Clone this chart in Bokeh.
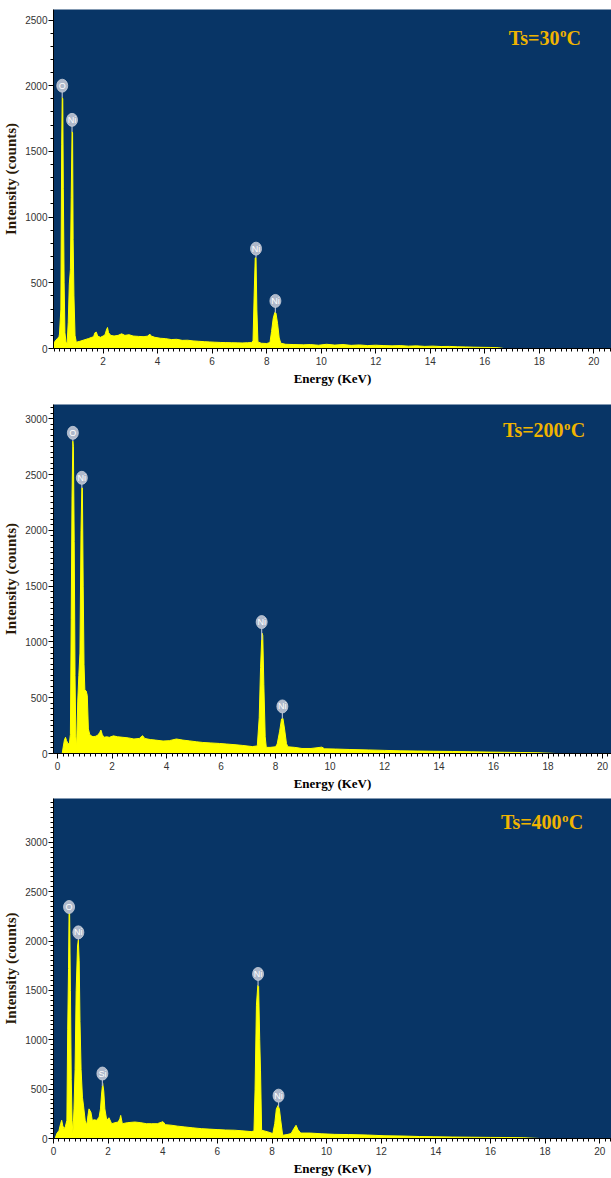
import numpy as np
from bokeh.plotting import figure
from bokeh.layouts import column
from bokeh.models import Range1d, Label, SingleIntervalTicker, ColumnDataSource
from bokeh.core.properties import value
from bokeh.embed import file_html
from bokeh.resources import INLINE

# ---------------- data ----------------
# Ts = 30 C
energy_30 = [0.19, 0.26, 0.32, 0.38, 0.40, 0.45, 0.48, 0.50, 0.52, 0.54, 0.57, 0.60, 0.64, 0.68,
             0.72, 0.76, 0.80, 0.83, 0.86, 0.88, 0.90, 0.93, 0.97, 1.02,
             1.05, 1.15, 1.30, 1.47, 1.58, 1.65, 1.70, 1.75, 1.80, 1.90, 2.00, 2.07, 2.12, 2.16,
             2.20, 2.28, 2.40, 2.55, 2.68, 2.80, 2.95, 3.10, 3.30, 3.50, 3.65, 3.71, 3.76, 3.90,
             4.10, 4.30, 4.50, 4.70, 4.90, 5.10, 5.30, 5.50, 5.71, 5.90, 6.10, 6.32, 6.50, 6.70,
             6.92, 7.10, 7.30, 7.45, 7.50, 7.54, 7.58, 7.61, 7.64, 7.68, 7.80, 8.00, 8.12, 8.18,
             8.24, 8.30, 8.34, 8.40, 8.46, 8.52, 8.70, 9.00, 9.35, 9.60, 9.90, 10.2, 10.5, 10.8,
             11.1, 11.4, 11.7, 12.0, 12.3, 12.6, 12.9, 13.2, 13.5, 13.8, 14.1, 14.4, 14.7, 15.0,
             15.3, 15.6, 15.9, 16.2, 16.5, 16.7]
counts_30 = [38, 63, 75, 89, 110, 300, 1550, 1910, 1900, 1220, 500, 120, 45, 40,
             200, 490, 600, 1150, 1650, 1640, 830, 400, 100, 45,
             50, 55, 65, 76, 85, 90, 120, 125, 95, 85, 95, 105, 140, 160,
             120, 100, 95, 100, 112, 100, 105, 95, 92, 90, 95, 110, 95, 85,
             78, 75, 68, 70, 62, 63, 58, 55, 52, 50, 48, 46, 45, 44,
             43, 42, 44, 45, 60, 400, 690, 690, 300, 50, 40, 38, 45, 130,
             230, 275, 270, 190, 80, 40, 32, 30, 28, 30, 25, 32, 26, 30,
             24, 27, 22, 25, 22, 20, 22, 18, 20, 16, 18, 15, 16, 13,
             12, 10, 9, 8, 6, 0]

# Ts = 200 C
energy_200 = [0.17, 0.20, 0.25, 0.29, 0.33, 0.38, 0.43, 0.47, 0.50, 0.53, 0.56, 0.58, 0.61, 0.64,
              0.67, 0.70, 0.74, 0.78, 0.82, 0.86, 0.89, 0.91, 0.94, 0.97, 1.00, 1.05, 1.09, 1.13,
              1.18, 1.23, 1.30, 1.40, 1.48, 1.55, 1.59, 1.64, 1.70, 1.80, 1.90, 2.05, 2.20, 2.40,
              2.60, 2.80, 3.00, 3.12, 3.20, 3.40, 3.60, 3.87, 4.10, 4.36, 4.60, 4.85, 5.10, 5.33,
              5.60, 5.94, 6.20, 6.55, 6.80, 7.15, 7.33, 7.40, 7.45, 7.50, 7.53, 7.57, 7.62, 7.66,
              7.80, 8.00, 8.06, 8.15, 8.22, 8.27, 8.33, 8.40, 8.45, 8.70, 8.97, 9.30, 9.70, 9.80,
              10.2, 10.7, 11.4, 12.0, 12.6, 13.2, 13.8, 14.5, 15.2, 15.8, 16.4, 17.0, 17.6, 18.3]
counts_200 = [0, 50, 120, 145, 115, 90, 85, 170, 1200, 2300, 2800, 2750, 1900, 700,
              150, 55, 470, 700, 900, 2000, 2380, 2380, 1500, 800, 570, 560, 520, 220,
              170, 160, 150, 155, 165, 190, 210, 170, 145, 150, 145, 158, 150, 145,
              140, 130, 135, 160, 135, 125, 120, 112, 115, 130, 120, 113, 105, 99,
              95, 90, 85, 78, 72, 62, 68, 320, 770, 1080, 1060, 620, 150, 55,
              55, 60, 85, 200, 310, 315, 220, 90, 60, 55, 45, 45, 57, 42,
              40, 36, 32, 28, 24, 22, 20, 18, 15, 13, 11, 9, 7, 0]

# Ts = 400 C
energy_400 = [0.06, 0.12, 0.20, 0.26, 0.30, 0.34, 0.38, 0.43, 0.49, 0.52, 0.55, 0.57, 0.59, 0.62,
              0.65, 0.68, 0.71, 0.75, 0.79, 0.83, 0.88, 0.91, 0.94, 0.97, 1.01, 1.06, 1.10, 1.16,
              1.22, 1.26, 1.30, 1.34, 1.37, 1.42, 1.50, 1.58, 1.67, 1.72, 1.76, 1.80, 1.84, 1.88,
              1.95, 2.03, 2.13, 2.25, 2.37, 2.43, 2.46, 2.52, 2.70, 2.98, 3.20, 3.40, 3.59, 3.80,
              3.95, 4.01, 4.10, 4.30, 4.55, 4.81, 5.10, 5.41, 5.70, 6.02, 6.30, 6.63, 6.90, 7.24,
              7.34, 7.38, 7.43, 7.48, 7.51, 7.55, 7.58, 7.62, 7.85, 8.03, 8.10, 8.16, 8.22, 8.27,
              8.32, 8.39, 8.55, 8.70, 8.80, 8.88, 8.95, 9.05, 9.40, 9.80, 10.3, 10.8, 11.5, 12.1,
              12.8, 13.4, 13.9, 14.6, 15.3, 16.0, 16.6, 17.2, 17.8]
counts_400 = [0, 50, 80, 150, 185, 130, 100, 117, 184, 1100, 1720, 2300, 2280, 1500,
              600, 184, 50, 300, 700, 1500, 1950, 2010, 1800, 1186, 700, 418, 330, 184,
              134, 230, 300, 280, 267, 184, 190, 184, 217, 300, 450, 560, 480, 300,
              184, 210, 150, 160, 167, 200, 234, 150, 160, 167, 160, 150, 150, 150,
              165, 170, 140, 135, 125, 117, 108, 100, 95, 90, 86, 84, 78, 70,
              75, 500, 1350, 1550, 1540, 1000, 685, 84, 67, 50, 150, 300, 334, 300,
              184, 33, 40, 50, 100, 134, 90, 55, 55, 48, 42, 40, 35, 28,
              25, 20, 18, 15, 13, 11, 10, 8, 0]

# peak identification labels
peaks_30_el = ["O", "Ni", "Ni", "Ni"]
peaks_30_e = [0.50, 0.86, 7.61, 8.32]
peaks_30_y = [2000, 1740, 760, 362]

peaks_200_el = ["O", "Ni", "Ni", "Ni"]
peaks_200_e = [0.56, 0.89, 7.49, 8.25]
peaks_200_y = [2874, 2471, 1178, 422]

peaks_400_el = ["O", "Ni", "Si", "Ni", "Ni"]
peaks_400_e = [0.57, 0.91, 1.79, 7.49, 8.24]
peaks_400_y = [2345, 2088, 658, 1667, 434]

titles = ["Ts=30", "Ts=200", "Ts=400"]

# ---------------- styling ----------------
BG = "#083566"
YEL = "#FFFF00"
GOLD = "#F0B400"
BUBBLE = "#AEB8CA"
SERIF = "Liberation Serif"
SANS = "Liberation Sans Narrow, Liberation Sans, Arial, sans-serif"


def make_panel(energy, counts, el, pe, py, title, xr, yr, h, top, bottom, left, title_pos,
               y_minor):
    p = figure(width=611, height=h, output_backend="svg", toolbar_location=None,
               x_range=Range1d(*xr), y_range=Range1d(*yr),
               min_border_left=left, min_border_right=0,
               min_border_top=top, min_border_bottom=bottom)
    p.background_fill_color = BG
    p.border_fill_color = "white"
    p.outline_line_color = None
    p.xgrid.visible = False
    p.ygrid.visible = False

    src = ColumnDataSource(dict(e=energy, c=counts))
    p.varea(x="e", y1=0, y2="c", source=src, fill_color=YEL)
    p.line(x="e", y="c", source=src, line_color=YEL, line_width=1)

    # peak bubbles
    peak_top = list(np.interp(pe, energy, counts))
    p.segment(x0=pe, y0=py, x1=pe, y1=peak_top, line_color=BUBBLE, line_width=1.2)
    p.ellipse(x=pe, y=py, width=11, height=13, width_units="screen", height_units="screen",
              fill_color=BUBBLE, line_color="#C8CFDB", line_width=0.8)
    p.text(x=pe, y=py, text=el, text_color="white", text_font=value("Liberation Sans"),
           text_font_size="9px", text_align="center", text_baseline="middle")

    # title  Ts=XX (superscript o) C
    tx, ty = title_pos
    p.add_layout(Label(x=tx, y=ty, text="C", text_align="right", text_baseline="middle",
                       text_font=SERIF, text_font_style="bold", text_font_size="20px",
                       text_color=GOLD))
    p.add_layout(Label(x=tx, y=ty, x_offset=-14.5, y_offset=5, text="o", text_align="right",
                       text_baseline="middle", text_font=SERIF, text_font_style="bold",
                       text_font_size="13px", text_color=GOLD))
    p.add_layout(Label(x=tx, y=ty, x_offset=-21.5, text=title, text_align="right",
                       text_baseline="middle", text_font=SERIF, text_font_style="bold",
                       text_font_size="20px", text_color=GOLD))

    p.xaxis.ticker = SingleIntervalTicker(interval=2, num_minor_ticks=10)
    p.yaxis.ticker = SingleIntervalTicker(interval=500, num_minor_ticks=y_minor)
    for ax in (p.xaxis[0], p.yaxis[0]):
        ax.axis_line_color = "black"
        ax.major_tick_line_color = "black"
        ax.minor_tick_line_color = "black"
        ax.major_tick_out = 5
        ax.major_tick_in = 0
        ax.minor_tick_out = 3
        ax.minor_tick_in = 0
        ax.major_label_text_font = SANS
        ax.major_label_text_font_size = "10px"
        ax.major_label_text_color = "#333333"
        ax.axis_label_text_font = SERIF
        ax.axis_label_text_font_style = "bold"
    p.xaxis.axis_label = "Energy (KeV)"
    p.xaxis.axis_label_text_font_size = "13px"
    p.xaxis.axis_label_text_color = "black"
    p.xaxis.major_label_standoff = 3
    p.xaxis.axis_label_standoff = 3
    p.yaxis.axis_label = "Intensity (counts)"
    p.yaxis.axis_label_text_font_size = "15px"
    p.yaxis.axis_label_text_color = "#2a1a08"
    p.yaxis.major_label_standoff = 1
    p.yaxis.axis_label_standoff = 3
    return p


p1 = make_panel(energy_30, counts_30, peaks_30_el, peaks_30_e, peaks_30_y, titles[0],
                (0.18, 20.65), (0, 2580), 400, 9, 52, 48, (19.53, 2365), 5)
p2 = make_panel(energy_200, counts_200, peaks_200_el, peaks_200_e, peaks_200_y, titles[1],
                (-0.15, 20.33), (0, 3128), 398, 4, 45, 50, (19.36, 2895), 10)
p3 = make_panel(energy_400, counts_400, peaks_400_el, peaks_400_e, peaks_400_y, titles[2],
                (0.0, 20.43), (0, 3444), 380, 0, 36, 52, (19.39, 3203), 10)

layout = column(p1, p2, p3, spacing=0)
open("out.html", "w").write(file_html(layout, INLINE))
